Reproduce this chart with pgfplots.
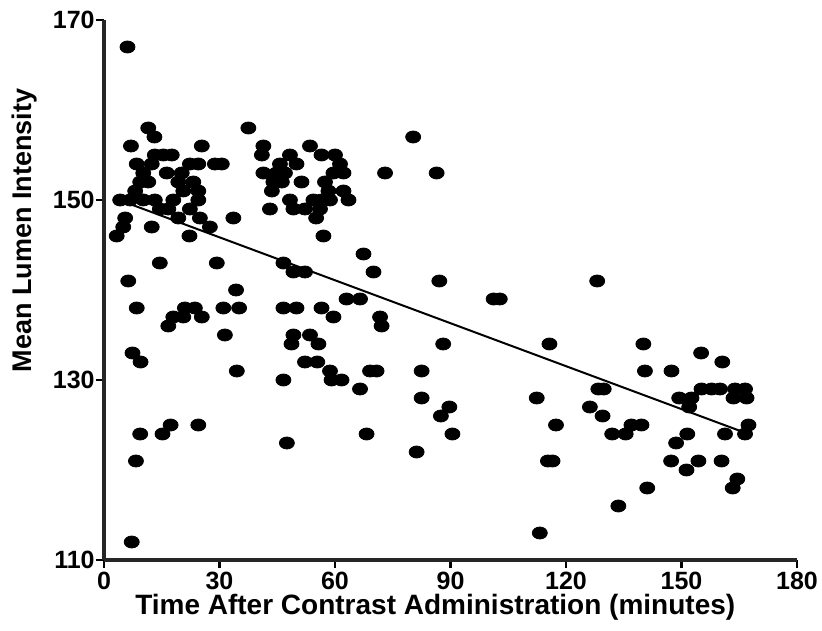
\documentclass[border=0pt]{standalone}
\usepackage{fontspec}
\setmainfont{Liberation Sans}
\usepackage{pgfplots}
\pgfplotsset{compat=1.18}

\begin{document}
\begin{tikzpicture}
\begin{axis}[
  width=346.5pt, height=270pt,
  scale only axis,
  xmin=0, xmax=180, ymin=110, ymax=170,
  xtick={0,30,...,180}, ytick={110,130,150,170},
  axis lines*=left,
  x axis line style={line width=1.6pt, black!85},
  y axis line style={line width=1.6pt, black!85},
  tick align=outside,
  major tick length=4pt,
  tick style={line width=1.2pt, black},
  major tick style={line width=1.2pt, black},
  minor tick num=0,
  clip=false,
  /pgf/number format/assume math mode=true,
  tick label style={font=\fontsize{12.5}{14}\selectfont\bfseries},
  xticklabel style={inner sep=0pt, yshift=-2pt},
  yticklabel style={inner sep=0pt, xshift=-0.5pt},
  xlabel={Time After Contrast Administration (minutes)},
  ylabel={Mean Lumen Intensity},
  xlabel style={font=\fontsize{14}{16}\selectfont\bfseries, inner sep=0pt,
    at={(axis description cs:0.478,-0.088)}, anchor=center},
  ylabel style={font=\fontsize{13.5}{15}\selectfont\bfseries, inner sep=0pt,
    at={(axis description cs:-0.114,0.61)}, anchor=center},
]
\addplot[only marks, mark=*, mark size=3pt,
  mark options={fill=black, draw=black, xscale=1.25}]
  coordinates {
  (6.1,167) (11.5,158) (13.1,157) (7.0,156) (25.4,156) (37.5,158)
  (41.4,156) (41.0,155) (48.3,155) (13.2,155) (15.4,155) (17.6,155)
  (8.5,154) (12.4,154) (22.3,154) (24.5,154) (28.8,154) (30.6,154)
  (16.3,153) (10.2,153) (20.2,153) (9.4,152) (11.5,152) (19.3,152)
  (23.2,152) (8.1,151) (20.6,151) (24.5,151) (4.2,150) (6.8,150)
  (10.2,150) (13.2,150) (18.0,150) (24.5,150) (14.5,149) (16.7,149)
  (22.3,149) (5.5,148) (12.4,147) (19.3,148) (24.9,148) (33.6,148)
  (5.0,147) (27.5,147) (45.7,154) (50.0,154) (41.4,153) (44.8,153)
  (47.0,153) (44.0,152) (46.2,152) (43.6,151) (48.3,150) (43.1,149)
  (49.2,149) (53.5,156) (56.5,155) (60.0,155) (61.3,154) (59.6,153)
  (62.2,153) (73.0,153) (86.4,153) (80.3,157) (51.3,152) (57.4,152)
  (58.3,151) (62.2,151) (54.4,150) (56.5,150) (58.7,150) (63.5,150)
  (52.2,149) (56.1,149) (55.1,148) (57.0,146) (67.4,144) (70.0,142)
  (87.1,141) (46.6,143) (49.2,142) (52.2,142) (63.0,139) (66.5,139)
  (46.6,138) (50.0,138) (56.5,138) (59.6,137) (71.7,137) (72.1,136)
  (49.2,135) (53.5,135) (48.7,134) (55.7,134) (88.1,134) (52.2,132)
  (55.4,132) (58.7,131) (69.1,131) (70.8,131) (82.5,131) (46.6,130)
  (59.1,130) (61.7,130) (66.5,129) (82.5,128) (89.7,127) (87.5,126)
  (47.5,123) (68.2,124) (90.5,124) (81.2,122)
  (3.3,146) (22.2,146) (14.5,143) (29.3,143) (6.3,141) (34.3,140)
  (8.5,138) (21.0,138) (23.6,138) (31.0,138) (35.1,138) (18.0,137)
  (20.6,137) (25.4,137) (16.7,136) (31.4,135) (7.4,133) (9.5,132)
  (34.5,131) (9.4,124) (8.3,121) (15.2,124) (17.3,125) (24.5,125)
  (7.2,112)
  (101.2,139) (102.8,139) (128.1,141) (115.7,134) (140.1,134) (140.5,131)
  (128.4,129) (129.8,129) (112.4,128) (126.2,127) (129.5,126) (117.4,125)
  (132.0,124) (135.5,124) (137.0,125) (139.6,125) (115.3,121) (116.5,121)
  (141.1,118) (133.6,116) (113.2,113)
  (147.4,131) (155.1,133) (160.6,132) (149.4,128) (152.6,128) (152.0,127)
  (155.2,129) (157.8,129) (160.0,129) (163.9,129) (166.5,129) (163.5,128)
  (166.9,128) (167.4,125) (166.5,124) (161.3,124) (151.5,124) (148.6,123)
  (147.3,121) (154.4,121) (160.4,121) (151.3,120) (164.5,119) (163.3,118)
  };
\addplot[black, line width=1pt] coordinates {(3.3,150.1) (165.5,124.3)};
\end{axis}
\pgfresetboundingbox
\path[use as bounding box] (-52pt,-35pt) rectangle (359pt,280pt);
\end{tikzpicture}
\end{document}
